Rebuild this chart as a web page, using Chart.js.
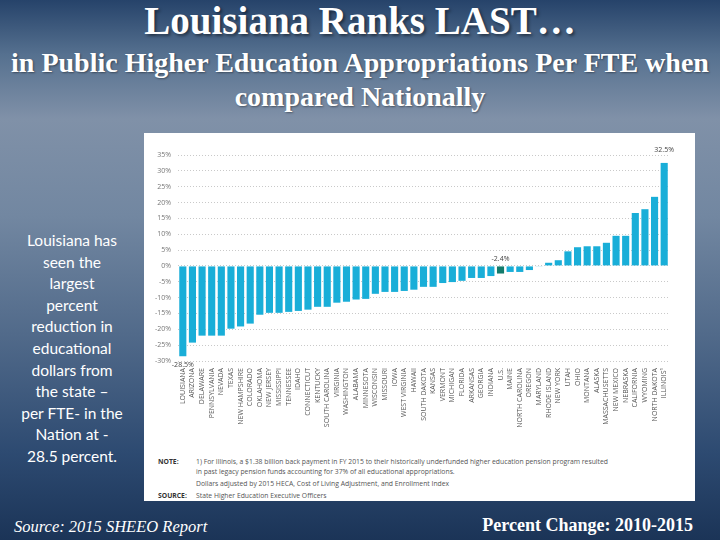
<!DOCTYPE html>
<html>
<head>
<meta charset="utf-8">
<script src="https://cdn.jsdelivr.net/npm/chart.js@4/dist/chart.umd.min.js"></script>
<style>
body {
    margin: 0; width: 720px; height: 540px; overflow: hidden; position: relative;
    background: linear-gradient(to bottom, #26436a 0%, #55708f 10%, #8091a8 22%, #7287a1 40%, #516a8a 62%, #2d4a71 84%, #1b3457 100%);
}
.serif { font-family: 'Liberation Serif', 'Times New Roman', serif; color: #fff; position: absolute; }
#title { left: 0; width: 720px; top: 0; line-height: 42px; text-align: center; font-weight: bold; font-size: 39px; text-shadow: 2px 2px 3px rgba(0,0,0,.45); }
#subtitle { left: 0; width: 720px; top: 46px; line-height: 34px; text-align: center; font-weight: bold; font-size: 28px; text-shadow: 1px 1px 2px rgba(0,0,0,.4); }
#side { position: absolute; left: 7px; width: 130px; top: 230px; line-height: 21.6px; text-align: center; color: #fff; font-family: Lato, sans-serif; font-size: 15.5px; }
#source { left: 14px; top: 515px; font-style: italic; font-size: 16.5px; line-height: 24px; }
#period { right: 27px; top: 513px; font-weight: bold; font-size: 18px; line-height: 24px; }
#box { position: absolute; left: 144px; top: 133px; width: 551px; height: 368px; background: #fff; }
#box canvas { position: absolute; left: 0; top: 0; }
.note { position: absolute; font-family: 'Open Sans', sans-serif; font-size: 6.8px; color: #555; line-height: 10px; }
.note b { position: absolute; left: -38px; color: #333; }
</style>
</head>
<body>
<div id="title" class="serif">Louisiana Ranks LAST…</div>
<div id="subtitle" class="serif">in Public Higher Education Appropriations Per FTE when<br>compared Nationally</div>
<div id="side">Louisiana has<br>seen the<br>largest<br>percent<br>reduction in<br>educational<br>dollars from<br>the state –<br>per FTE- in the<br>Nation at -<br>28.5 percent.</div>

<div id="box">
    <canvas id="changeChart" width="551" height="322"></canvas>
    <div class="note" style="left:52px; top:324px;"><b>NOTE:</b>1) For Illinois, a $1.38 billion back payment in FY 2015 to their historically underfunded higher education pension program resulted<br>in past legacy pension funds accounting for 37% of all educational appropriations.</div>
    <div class="note" style="left:52px; top:346px;">Dollars adjusted by 2015 HECA, Cost of Living Adjustment, and Enrollment Index</div>
    <div class="note" style="left:52px; top:358px;"><b>SOURCE:</b>State Higher Education Executive Officers</div>
</div>

<div id="source" class="serif">Source: 2015 SHEEO Report</div>
<div id="period" class="serif">Percent Change: 2010-2015</div>

<script>
const states = ['LOUISIANA', 'ARIZONA', 'DELAWARE', 'PENNSYLVANIA', 'NEVADA', 'TEXAS', 'NEW HAMPSHIRE',
    'COLORADO', 'OKLAHOMA', 'NEW JERSEY', 'MISSISSIPPI', 'TENNESSEE', 'IDAHO', 'CONNECTICUT', 'KENTUCKY',
    'SOUTH CAROLINA', 'VIRGINIA', 'WASHINGTON', 'ALABAMA', 'MINNESOTA', 'WISCONSIN', 'MISSOURI', 'IOWA',
    'WEST VIRGINIA', 'HAWAII', 'SOUTH DAKOTA', 'KANSAS', 'VERMONT', 'MICHIGAN', 'FLORIDA', 'ARKANSAS',
    'GEORGIA', 'INDIANA', 'U.S.', 'MAINE', 'NORTH CAROLINA', 'OREGON', 'MARYLAND', 'RHODE ISLAND',
    'NEW YORK', 'UTAH', 'OHIO', 'MONTANA', 'ALASKA', 'MASSACHUSETTS', 'NEW MEXICO', 'NEBRASKA',
    'CALIFORNIA', 'WYOMING', 'NORTH DAKOTA', 'ILLINOIS¹'];

// percent change in appropriations per FTE, 2010-2015
const changes = [-28.5, -24.2, -22.0, -22.0, -22.0, -19.8, -19.1,
    -18.2, -15.4, -14.8, -14.8, -14.5, -14.2, -13.8, -12.9,
    -12.9, -11.6, -11.3, -10.6, -10.4, -8.8, -8.2, -8.2,
    -7.9, -7.5, -6.6, -6.6, -5.4, -5.1, -4.7, -3.8,
    -3.8, -3.2, -2.4, -1.9, -1.9, -1.3, -0.2, 1.0,
    1.8, 4.6, 5.9, 6.2, 6.2, 7.3, 9.5, 9.5,
    16.7, 17.9, 21.8, 32.5];

const yTicks = [-30, -25, -20, -15, -10, -5, 0, 5, 10, 15, 20, 25, 30, 35];

const labelledBars = [0, 33, 50];   // bars that get their value printed

const barColors = states.map(s => s === 'U.S.' ? '#137b6c' : '#19aed8');

// prints the value of a few bars, like in the original graphic
const valueLabels = {
    id: 'valueLabels',
    afterDatasetsDraw(chart) {
        const ctx = chart.ctx;
        const meta = chart.getDatasetMeta(0);
        ctx.save();
        ctx.font = '7px "Open Sans"';
        ctx.fillStyle = '#444';
        ctx.textAlign = 'center';
        labelledBars.forEach(i => {
            const bar = meta.data[i];
            if (i === 0) {
                ctx.textBaseline = 'top';
                ctx.fillText(changes[i].toFixed(1) + '%', bar.x, bar.y + 5);
            } else {
                ctx.textBaseline = 'bottom';
                const gap = changes[i] > 0 ? 9 : 4;
                ctx.fillText(changes[i].toFixed(1) + '%', bar.x, Math.min(bar.y, bar.base) - gap);
            }
        });
        ctx.restore();
    }
};

const ctx = document.getElementById('changeChart').getContext('2d');
new Chart(ctx, {
    type: 'bar',
    data: {
        labels: states,
        datasets: [{
            data: changes,
            backgroundColor: barColors,
            barPercentage: 0.74,
            categoryPercentage: 1
        }]
    },
    options: {
        responsive: false,
        animation: false,
        layout: { padding: { top: 22, right: 26, left: 0, bottom: 0 } },
        scales: {
            x: {
                grid: { display: false, drawTicks: false },
                border: { display: false },
                ticks: {
                    autoSkip: false,
                    minRotation: 90,
                    maxRotation: 90,
                    padding: 7,
                    color: '#555',
                    font: { family: 'Open Sans', size: 7 }
                },
                afterFit: scale => { scale.height = 94; }
            },
            y: {
                min: -30,
                max: 35,
                afterBuildTicks: scale => { scale.ticks = yTicks.map(v => ({ value: v })); },
                grid: { color: '#c9c9c9', drawTicks: false },
                border: { display: false, dash: [1, 2] },
                ticks: {
                    padding: 7,
                    color: '#777',
                    font: { family: 'Open Sans', size: 7 },
                    callback: v => v + '%'
                },
                afterFit: scale => { scale.width = 34; }
            }
        },
        plugins: {
            legend: { display: false },
            tooltip: { enabled: false }
        }
    },
    plugins: [valueLabels]
});
</script>
</body>
</html>
